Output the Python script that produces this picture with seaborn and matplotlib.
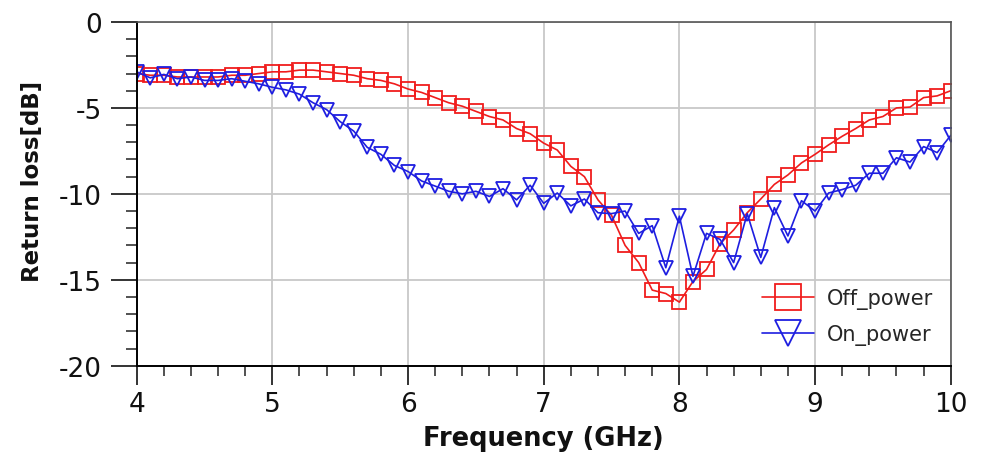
import numpy as np
import pandas as pd
import matplotlib
matplotlib.use("Agg")
import matplotlib.pyplot as plt
from matplotlib.ticker import MultipleLocator
import seaborn as sns

# frequency axis, 0.1 GHz steps
freq = np.round(np.arange(4.0, 10.0001, 0.1), 1)

off_power = [
    -3.0, -3.1, -3.1, -3.2, -3.2, -3.2, -3.2, -3.1, -3.1, -3.0,
    -2.9, -2.9, -2.8, -2.8, -2.9, -3.0, -3.1, -3.3, -3.4, -3.6,
    -3.9, -4.1, -4.4, -4.7, -4.9, -5.2, -5.5, -5.7, -6.2, -6.5,
    -7.05, -7.45, -8.4, -9.0, -10.35, -11.25, -13.0, -14.0, -15.6, -15.8,
    -16.3, -15.1, -14.4, -12.9, -12.1, -11.1, -10.3, -9.45, -8.9, -8.2,
    -7.7, -7.15, -6.65, -6.2, -5.7, -5.5, -5.0, -4.95, -4.4, -4.3,
    -4.0,
]
on_power = [
    -2.9, -3.25, -3.05, -3.3, -3.2, -3.4, -3.4, -3.3, -3.45, -3.6,
    -3.8, -3.95, -4.2, -4.7, -5.1, -5.8, -6.35, -7.3, -7.7, -8.35,
    -8.7, -9.25, -9.55, -9.85, -10.0, -9.85, -10.15, -9.7, -10.35, -9.5,
    -10.55, -9.95, -10.7, -10.3, -11.1, -11.15, -11.0, -12.3, -11.85, -14.3,
    -11.3, -14.8, -12.3, -12.65, -14.0, -11.15, -13.7, -10.8, -12.45, -10.4,
    -11.0, -9.95, -9.75, -9.5, -8.8, -8.8, -7.9, -8.15, -7.25, -7.6,
    -6.6,
]
series_names = ["Off_power", "On_power"]
colors = ["#f01c1c", "#1e1ee0"]
markers = ["s", "v"]

df = pd.DataFrame({"freq": freq, "Off_power": off_power, "On_power": on_power})

sns.set_theme(style="white")
plt.rcParams["font.family"] = ["DejaVu Sans"]
plt.rcParams["axes.unicode_minus"] = False

fig, ax = plt.subplots(figsize=(9.89, 4.56), dpi=100)
fig.subplots_adjust(left=0.1382, right=0.9613, top=0.9496, bottom=0.1958)

for name, c, m in zip(series_names, colors, markers):
    sns.lineplot(data=df, x="freq", y=name, ax=ax, color=c, marker=m, markersize=9.5,
                 mfc="none", mec=c, mew=1.3, linewidth=1.2, label=name)

ax.set_xlim(4, 10)
ax.set_ylim(-20, 0)
ax.xaxis.set_major_locator(MultipleLocator(1))
ax.xaxis.set_minor_locator(MultipleLocator(0.2))
ax.yaxis.set_major_locator(MultipleLocator(5))
ax.yaxis.set_minor_locator(MultipleLocator(1))
ax.grid(True, which="major", color="#c8c8c8", linewidth=1.3)
ax.set_axisbelow(True)

for s in ["left", "bottom"]:
    ax.spines[s].set_color("black")
    ax.spines[s].set_linewidth(1.4)
for s in ["top", "right"]:
    ax.spines[s].set_color("#555555")
    ax.spines[s].set_linewidth(1.2)

ax.tick_params(axis="x", which="major", direction="out", length=14, width=1.4,
               color="#333333", labelsize=19, labelcolor="#111111", pad=4, bottom=True)
ax.tick_params(axis="x", which="minor", direction="out", length=7, width=1.2,
               color="#333333", bottom=True)
ax.tick_params(axis="y", which="major", direction="out", length=19, width=1.4,
               color="#333333", labelsize=19, labelcolor="#111111", pad=6, left=True)
ax.tick_params(axis="y", which="minor", direction="out", length=8, width=1.2,
               color="#333333", left=True)

ax.set_xlabel("Frequency (GHz)", fontsize=18.5, fontweight="bold", color="#111111", labelpad=6)
ax.set_ylabel("Return loss[dB]", fontsize=16.5, fontweight="bold", color="#111111")
ax.yaxis.set_label_coords(-0.114, 0.54)

ax.legend(loc="upper left", bbox_to_anchor=(0.768, 0.225), frameon=False,
          fontsize=15, handlelength=2.5, markerscale=1.9, labelspacing=0.7,
          borderpad=0, borderaxespad=0, handletextpad=0.6)

fig.savefig("out.png", dpi=100, facecolor="white")
